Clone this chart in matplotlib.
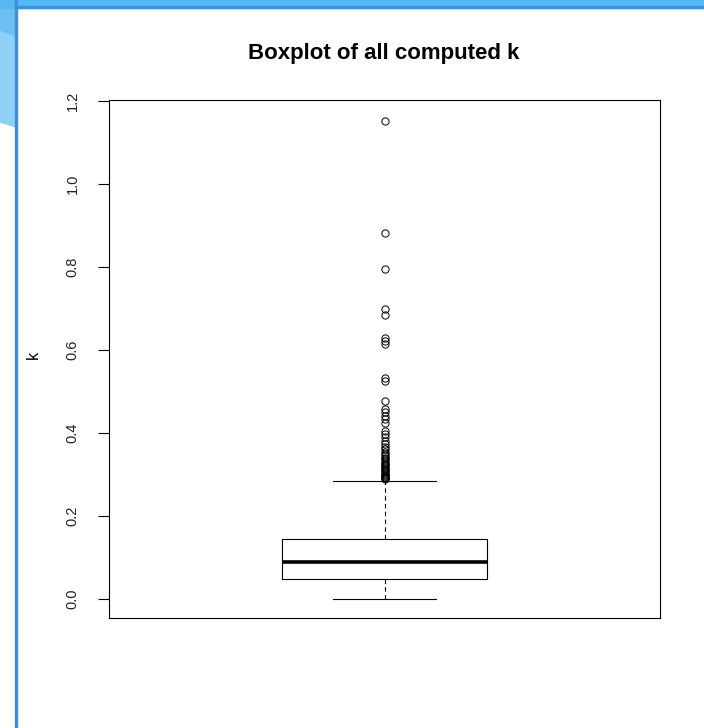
import matplotlib
matplotlib.use("Agg")
import matplotlib.pyplot as plt
from matplotlib.patches import Polygon, Rectangle

plt.rcParams['font.family'] = ['Liberation Sans', 'DejaVu Sans']

# box statistics of k
k_med = 0.089
k_q1 = 0.048
k_q3 = 0.145
k_whislo = 0.0
k_whishi = 0.283
k_outliers = [1.152, 0.882, 0.795, 0.699, 0.684, 0.629, 0.622, 0.614,
              0.533, 0.525, 0.477, 0.458, 0.451, 0.441, 0.434, 0.424,
              0.405, 0.398, 0.390, 0.381, 0.373, 0.366, 0.360, 0.355,
              0.350, 0.345, 0.340, 0.336, 0.332, 0.328, 0.325, 0.322,
              0.319, 0.316, 0.313, 0.310, 0.307, 0.304, 0.301, 0.298,
              0.296, 0.294, 0.292, 0.290, 0.288]
yticks = [0.0, 0.2, 0.4, 0.6, 0.8, 1.0, 1.2]

W, H = 704, 728
fig = plt.figure(figsize=(W / 100, H / 100), dpi=100)

# screenshot frame (blue borders at top/left)
def px(x, y):
    return (x / W, 1 - y / H)

fig.patches.append(Polygon([px(0, 0), px(16, 0), px(16, 127), px(0, 122)],
                           closed=True, transform=fig.transFigure,
                           color='#8fd0f7', zorder=0))
fig.patches.append(Polygon([px(0, 0), px(16, 0), px(16, 36), px(0, 30)],
                           closed=True, transform=fig.transFigure,
                           color='#6cc0f2', zorder=0))
fig.patches.append(Rectangle(px(0, 8), 1, 8 / H, transform=fig.transFigure,
                             color='#55b8f2', zorder=0))
fig.patches.append(Rectangle(px(15, 8), 1, 2 / H, transform=fig.transFigure,
                             color='#3f8ee0', zorder=0))
fig.patches.append(Rectangle(px(15, H), 2 / W, 1, transform=fig.transFigure,
                             color='#3f8ee0', zorder=0))

ax = fig.add_axes([109 / W, 1 - 618 / H, 551 / W, 518 / H])

stats = [dict(med=k_med, q1=k_q1, q3=k_q3, whislo=k_whislo,
              whishi=k_whishi, fliers=k_outliers)]
ax.bxp(stats, positions=[1], widths=0.372, patch_artist=False,
       boxprops=dict(color='black', linewidth=0.8),
       medianprops=dict(color='black', linewidth=2.6),
       whiskerprops=dict(color='black', linewidth=0.8, linestyle=(0, (4, 3))),
       capprops=dict(color='black', linewidth=0.8),
       flierprops=dict(marker='o', markersize=5.2, markerfacecolor='none',
                       markeredgecolor='black', markeredgewidth=0.7))

ax.set_xlim(0.5, 1.5)
ax.set_ylim(-0.046, 1.2016)
ax.set_xticks([])
ax.set_yticks(yticks)
ax.set_yticklabels([f"{v:.1f}" for v in yticks], rotation=90, va='center',
                   fontsize=10.5, color='#222222')
ax.tick_params(axis='y', length=8, width=0.8, pad=13)
for s in ax.spines.values():
    s.set_linewidth(0.8)

fig.text(33 / W, 1 - 355 / H, 'k', rotation=90, ha='center', va='center',
         fontsize=11.5)
fig.text(384 / W, 1 - 54 / H, 'Boxplot of all computed k', ha='center',
         va='center', fontsize=16, fontweight='bold')

fig.savefig('out.png', dpi=100)
